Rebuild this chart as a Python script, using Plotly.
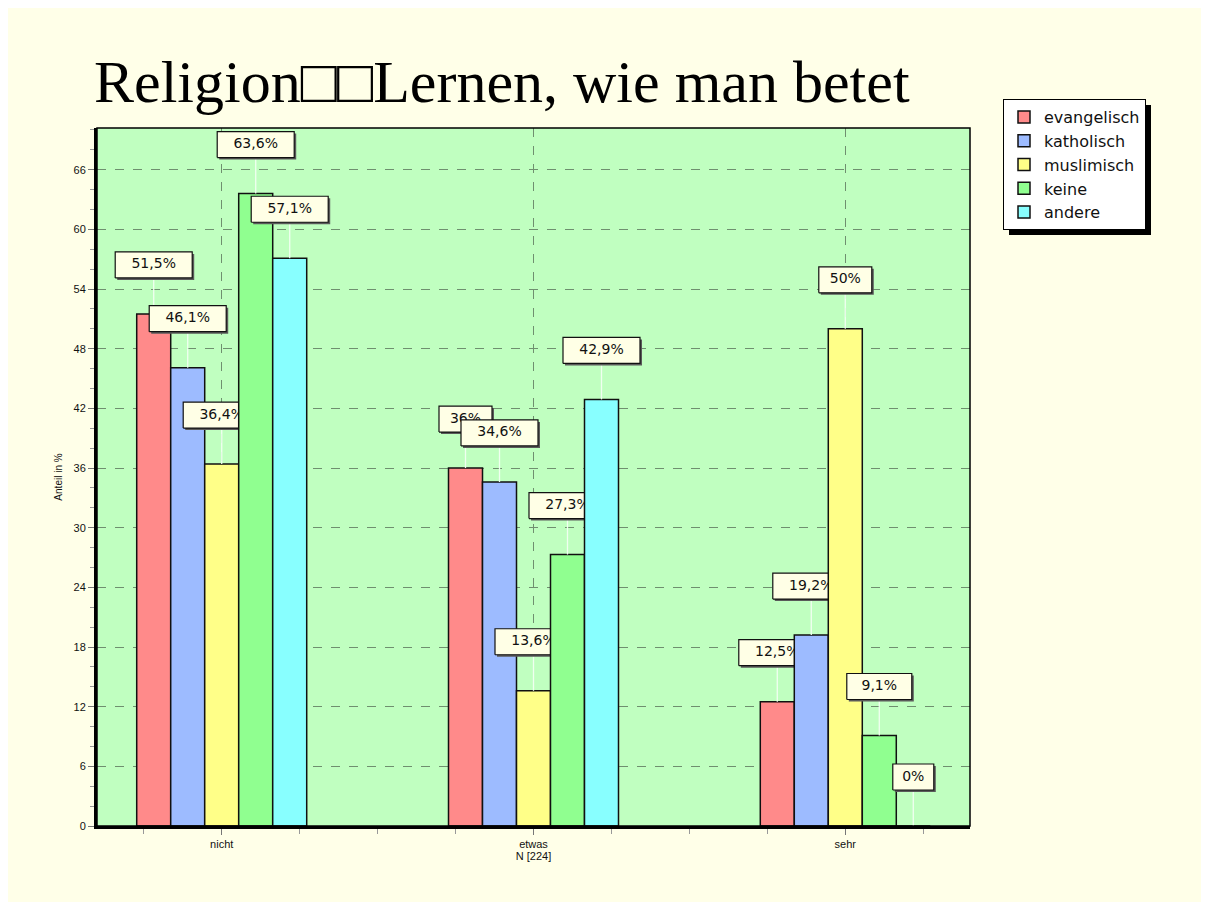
import plotly.graph_objects as go

# ---------------- data ----------------
categories = ["nicht", "etwas", "sehr"]
series_names = ["evangelisch", "katholisch", "muslimisch", "keine", "andere"]
evangelisch = [51.5, 36.0, 12.5]
katholisch = [46.1, 34.6, 19.2]
muslimisch = [36.4, 13.6, 50.0]
keine = [63.6, 27.3, 9.1]
andere = [57.1, 42.9, 0.0]
series_values = [evangelisch, katholisch, muslimisch, keine, andere]
y_ticks = [0, 6, 12, 18, 24, 30, 36, 42, 48, 54, 60, 66]
title_text = "Religion\u25a1\u25a1Lernen, wie man betet"
y_title = "Anteil in %"
x_title = "N [224]"

# ---------------- styling ----------------
colors = ["#FF8A8A", "#9DBBFF", "#FFFF88", "#90FF90", "#88FFFF"]
W, H = 1209, 902
OFF = 8  # page body margin
ML, MR, MT, MB = 97 - OFF, 1209 - 970 + OFF, 128 - OFF, 902 - 826 + OFF
X_RANGE = [-0.4, 2.4]
Y_RANGE = [0, 70.2]
PW, PH = W - ML - MR, H - MT - MB
UX = (X_RANGE[1] - X_RANGE[0]) / PW   # data units per pixel (x)
UY = (Y_RANGE[1] - Y_RANGE[0]) / PH   # data units per pixel (y)
BAR_W = 34 * UX
LABEL_LIFT = 49      # px, box centre above bar top
BOX_H = 26           # px
LABEL_FONT = "DejaVu Sans"
cat_pos = list(range(len(categories)))


def fmt(v):
    s = ("%.1f" % v).replace(".", ",")
    if s.endswith(",0"):
        s = s[:-2]
    return s + "%"


def px_x(px):  # screenshot x -> paper
    return (px - OFF - ML) / PW


def px_y(py):  # screenshot y -> paper
    return (H - MB - (py - OFF)) / PH


fig = go.Figure()

for i, (name, vals) in enumerate(zip(series_names, series_values)):
    xa = "x" if i == 0 else "x%d" % (i + 1)
    ya = "y" if i == 0 else "y%d" % (i + 1)
    offset = -2.5 * BAR_W + i * BAR_W
    fig.add_trace(go.Bar(
        x=cat_pos, y=vals, name=name, width=BAR_W, offset=offset,
        marker=dict(color=colors[i], line=dict(color="#101010", width=1.5)),
        xaxis=xa, yaxis=ya, showlegend=True,
    ))
    for c, v in zip(cat_pos, vals):
        txt = fmt(v)
        xc = c + offset + BAR_W / 2
        yc = v + LABEL_LIFT * UY
        bw = (12 * len(txt) + 17) * UX
        bh = BOX_H * UY
        x0, x1 = xc - bw / 2, xc + bw / 2
        y0, y1 = yc - bh / 2, yc + bh / 2
        # connector
        fig.add_trace(go.Scatter(
            x=[xc, xc], y=[v, y0], mode="lines",
            line=dict(color="#F0FFF0", width=1.3),
            xaxis=xa, yaxis=ya, showlegend=False, hoverinfo="skip",
        ))
        # shadow
        sx, sy = 2 * UX, 2 * UY
        fig.add_trace(go.Scatter(
            x=[x0 + sx, x1 + sx, x1 + sx, x0 + sx, x0 + sx],
            y=[y0 - sy, y0 - sy, y1 - sy, y1 - sy, y0 - sy],
            mode="lines", fill="toself", fillcolor="#5a5a5a",
            line=dict(width=0, color="#5a5a5a"),
            xaxis=xa, yaxis=ya, showlegend=False, hoverinfo="skip", cliponaxis=False,
        ))
        # box
        fig.add_trace(go.Scatter(
            x=[x0, x1, x1, x0, x0], y=[y0, y0, y1, y1, y0],
            mode="lines", fill="toself", fillcolor="#FFFFE6",
            line=dict(width=1.2, color="#111111"),
            xaxis=xa, yaxis=ya, showlegend=False, hoverinfo="skip", cliponaxis=False,
        ))
        # text
        fig.add_trace(go.Scatter(
            x=[xc], y=[yc], mode="text", text=[txt],
            textposition="middle center",
            textfont=dict(family=LABEL_FONT, size=14, color="#111111"),
            xaxis=xa, yaxis=ya, showlegend=False, hoverinfo="skip", cliponaxis=False,
        ))

tick_font = dict(family="Liberation Sans Narrow, Arial Narrow, Liberation Sans, Arial", size=11, color="#111111")

layout = dict(
    width=W, height=H,
    margin=dict(l=ML, r=MR, t=MT, b=MB, pad=0),
    paper_bgcolor="#FFFFE8",
    plot_bgcolor="#C0FFC0",
    title=dict(
        text=title_text, x=(94 - OFF) / W, xanchor="left", xref="container",
        y=1 - (81 - OFF) / H, yanchor="middle", yref="container",
        font=dict(family="Liberation Serif, Times New Roman, serif", size=60, color="#000000"),
    ),
    showlegend=True,
    legend=dict(
        x=px_x(1003), y=px_y(99), xanchor="left", yanchor="top",
        bgcolor="#FFFFFF", bordercolor="#000000", borderwidth=1,
        font=dict(family=LABEL_FONT, size=16, color="#111111"),
        tracegroupgap=0, itemwidth=30,
    ),
    xaxis=dict(
        range=X_RANGE, tickvals=cat_pos, ticktext=categories,
        showgrid=True, gridcolor="#6f8f6f", griddash="dash", gridwidth=1,
        showline=True, linecolor="#000000", linewidth=3,
        ticks="outside", ticklen=6, tickcolor="#777777",
        minor=dict(dtick=0.25, tick0=0, ticks="outside", ticklen=5, tickcolor="#999999", showgrid=False),
        tickfont=tick_font, zeroline=False,
        title=dict(text=x_title, font=tick_font, standoff=4),
    ),
    yaxis=dict(
        range=Y_RANGE, tickvals=y_ticks,
        showgrid=True, gridcolor="#6f8f6f", griddash="dash", gridwidth=1,
        showline=True, linecolor="#000000", linewidth=3,
        ticks="outside", ticklen=6, tickcolor="#777777",
        minor=dict(dtick=2, tick0=0, ticks="outside", ticklen=4, tickcolor="#999999", showgrid=False),
        tickfont=tick_font, zeroline=False,
        title=dict(text=y_title, font=dict(family=tick_font["family"], size=10, color="#111111"), standoff=10),
    ),
    shapes=[
        dict(type="rect", xref="paper", yref="paper", x0=0, x1=1, y0=0, y1=1,
             line=dict(color="#000000", width=1.5), layer="above"),
        dict(type="rect", xref="paper", yref="paper",
             x0=px_x(1009), x1=px_x(1151),
             y0=px_y(235), y1=px_y(105),
             fillcolor="#000000", line=dict(width=0), layer="above"),
    ],
)
for i in range(1, 5):
    layout["xaxis%d" % (i + 1)] = dict(range=X_RANGE, overlaying="x", visible=False, showgrid=False)
    layout["yaxis%d" % (i + 1)] = dict(range=Y_RANGE, overlaying="y", visible=False, showgrid=False)

fig.update_layout(**layout)
fig.write_html("out.html")
